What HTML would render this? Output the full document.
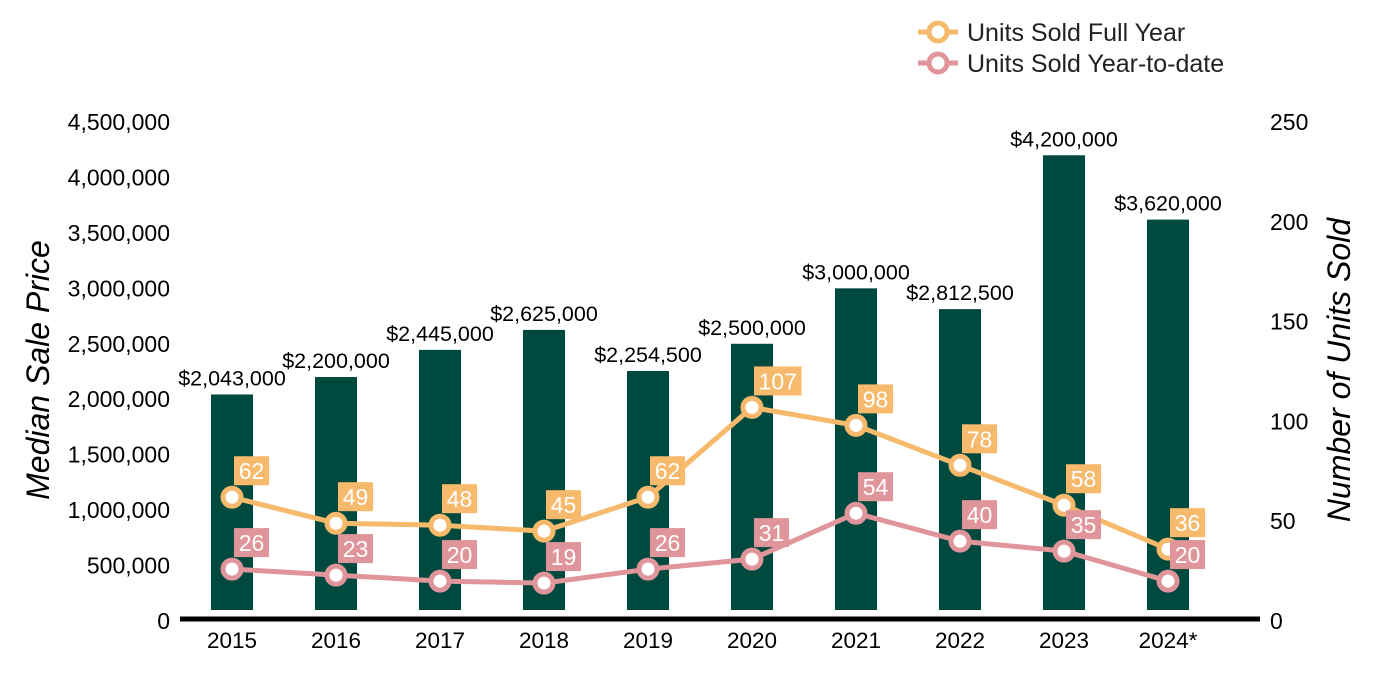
<!DOCTYPE html>
<html><head><meta charset="utf-8"><style>
body{margin:0;background:#fff;}
svg{display:block;font-family:"Liberation Sans",Arial,sans-serif;}
</style></head><body>
<svg id="chart" width="1400" height="700" viewBox="0 0 1400 700">
<g id="bars"></g>
<g id="lines"></g>
<g id="labels"></g>
<g id="axes"></g>
<text x="49" y="370" transform="rotate(-90 49 370)" text-anchor="middle" font-size="32" font-style="italic" fill="#000">Median Sale Price</text>
<text x="1350" y="370" transform="rotate(-90 1350 370)" text-anchor="middle" font-size="32" font-style="italic" fill="#000">Number of Units Sold</text>
<g>
<g>
<line x1="918" y1="32" x2="958" y2="32" stroke="#f7b96b" stroke-width="5"/>
<circle cx="938" cy="32" r="9" fill="#fff" stroke="#f7b96b" stroke-width="5"/>
<text x="967" y="41" font-size="25" fill="#222">Units Sold Full Year</text></g>
<g>
<line x1="918" y1="63" x2="958" y2="63" stroke="#e0959a" stroke-width="5"/>
<circle cx="938" cy="63" r="9" fill="#fff" stroke="#e0959a" stroke-width="5"/>
<text x="967" y="72" font-size="25" fill="#222">Units Sold Year-to-date</text></g>
</g>
</svg>
<script>
const categories=["2015","2016","2017","2018","2019","2020","2021","2022","2023","2024*"];
const prices=[2043000,2200000,2445000,2625000,2254500,2500000,3000000,2812500,4200000,3620000];
const unitsFull=[62,49,48,45,62,107,98,78,58,36];
const unitsYtd=[26,23,20,19,26,31,54,40,35,20];
const leftTicks=[0,500000,1000000,1500000,2000000,2500000,3000000,3500000,4000000,4500000];
const rightTicks=[0,50,100,150,200,250];
const NS="http://www.w3.org/2000/svg";
const y0=621,yTop=122;
const yL=v=>y0-(v/4500000)*(y0-yTop);
const yR=v=>y0-(v/250)*(y0-yTop);
const xC=i=>232+i*104;
function mk(tag,attrs,parent,txt){const e=document.createElementNS(NS,tag);for(const k in attrs)e.setAttribute(k,attrs[k]);if(txt!==undefined)e.textContent=txt;parent.appendChild(e);return e;}
const gb=document.getElementById('bars'),gl=document.getElementById('lines'),glab=document.getElementById('labels'),ga=document.getElementById('axes');
const fmt=v=>v.toLocaleString('en-US');
prices.forEach((p,i)=>{
 const r=mk('rect',{x:xC(i)-21,y:yL(p),width:42,height:610-yL(p),fill:'#00493f'},gb);
 
 
 const t=mk('text',{x:xC(i),y:yL(p)-9,'text-anchor':'middle','font-size':21.5,fill:'#000'},gb,'$'+fmt(p));
 
 
});
function series(vals,color,name){
 const pts=vals.map((v,i)=>xC(i)+','+yR(v)).join(' ');
 const pl=mk('polyline',{points:pts,fill:'none',stroke:color,'stroke-width':5},gl);
 
 
 vals.forEach((v,i)=>{
  const c=mk('circle',{cx:xC(i),cy:yR(v),r:9,fill:'#fff',stroke:color,'stroke-width':5},gl);
  
  
 });
}
function labels(vals,color,name){
 vals.forEach((v,i)=>{
  const s=String(v);const w=s.length*12.5+10;
  const x=xC(i)+2,y=yR(v)-41;
  const r=mk('rect',{x:x,y:y,width:w,height:29,fill:color},glab);
  
  
  const t=mk('text',{x:x+w/2,y:y+23,'text-anchor':'middle','font-size':23,fill:'#fff'},glab,s);
  
  
 });
}
series(unitsFull,'#f7b96b','units-full-year');
series(unitsYtd,'#e0959a','units-ytd');
labels(unitsFull,'#f7b96b','units-full-year');
labels(unitsYtd,'#e0959a','units-ytd');
const ax=mk('line',{x1:180,y1:619,x2:1260,y2:619,stroke:'#000','stroke-width':5},ga);


categories.forEach((c,i)=>{
 const t=mk('text',{x:xC(i),y:648,'text-anchor':'middle','font-size':22.5,fill:'#000'},ga,c);
 
 
});
leftTicks.forEach(v=>{
 const t=mk('text',{x:170,y:yL(v)+8,'text-anchor':'end','font-size':23,fill:'#000'},ga,fmt(v));
 
 
});
rightTicks.forEach(v=>{
 const t=mk('text',{x:1270,y:yR(v)+8,'text-anchor':'start','font-size':23,fill:'#000'},ga,String(v));
 
 
});
</script>
</body></html>
